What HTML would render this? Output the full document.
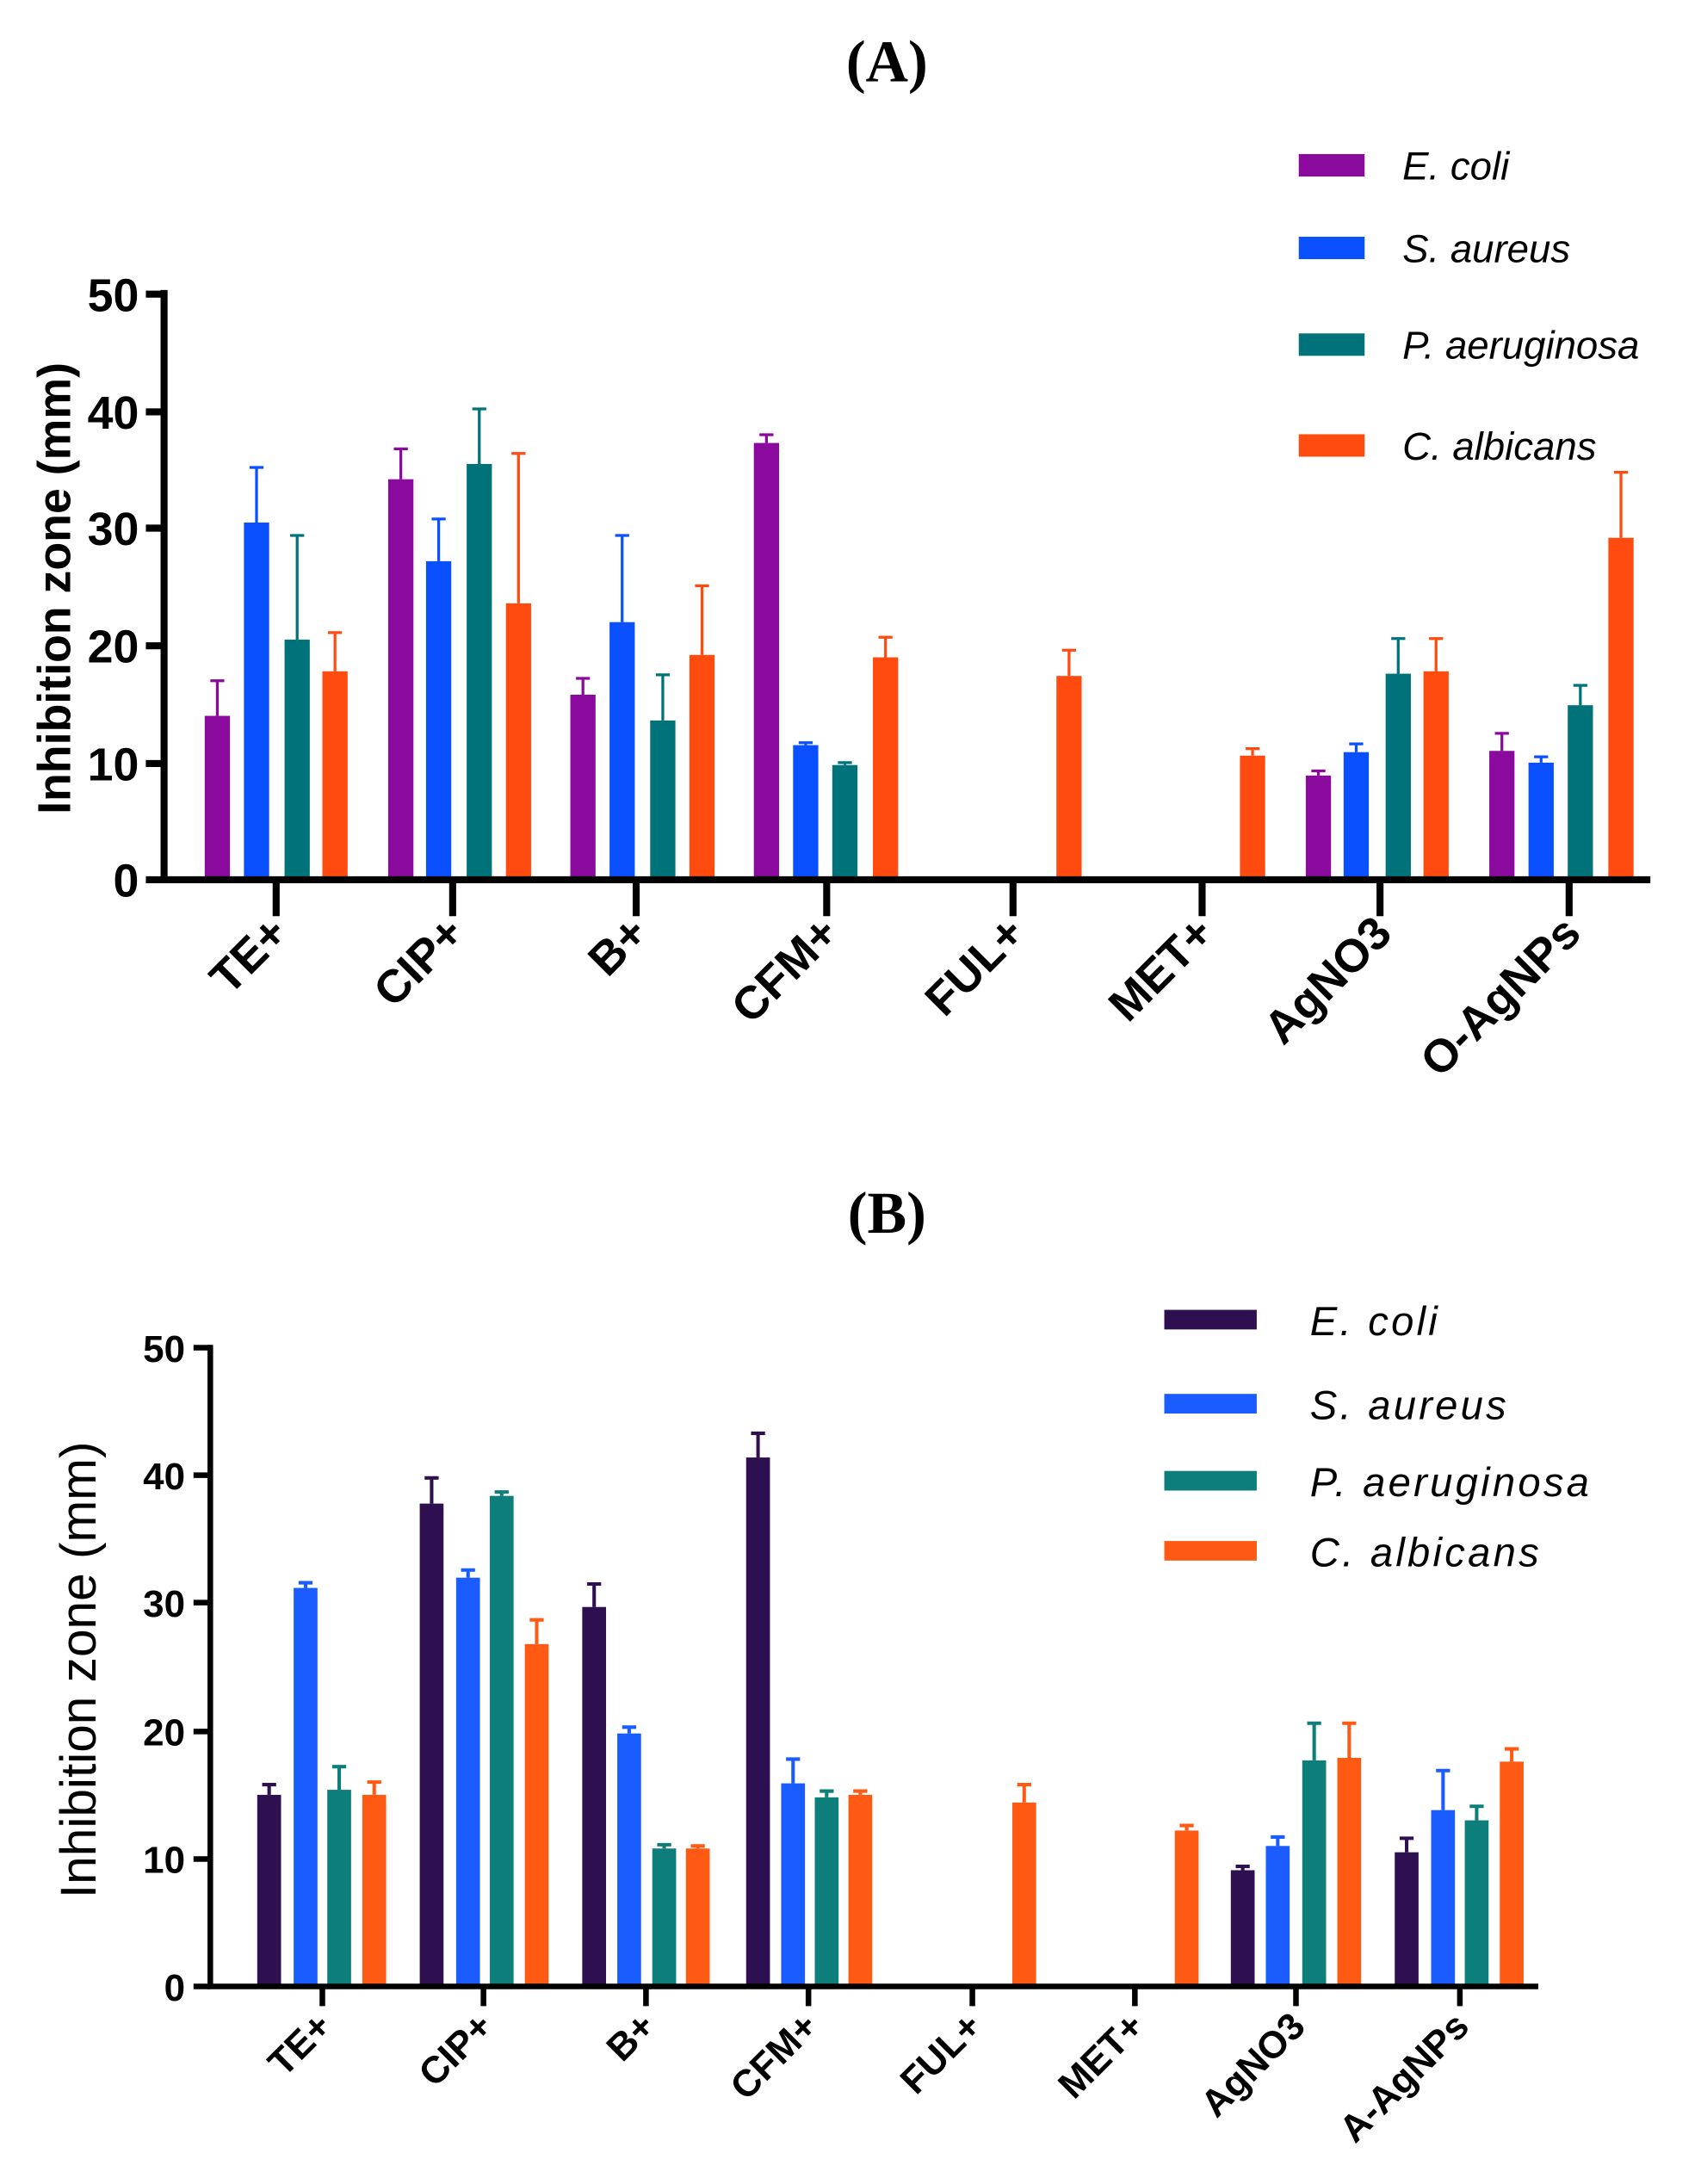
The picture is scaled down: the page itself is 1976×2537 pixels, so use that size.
<!DOCTYPE html>
<html><head><meta charset="utf-8"><style>html,body{margin:0;padding:0;background:#fff}svg{display:block}</style></head>
<body>
<svg width="1976" height="2537" viewBox="0 0 1214 1559" xmlns="http://www.w3.org/2000/svg" font-family="Liberation Sans, Arial, sans-serif">
<rect width="1214" height="1559" fill="#fff"/>
<text x="633" y="58" font-family="Liberation Serif, serif" font-size="42" font-weight="bold" text-anchor="middle">(A)</text>
<text x="633" y="880" font-family="Liberation Serif, serif" font-size="42" font-weight="bold" text-anchor="middle">(B)</text>

<!-- Chart A -->
<g>
<g fill="#8a0a9e">
<rect x="146" y="511" width="18" height="117"/><rect x="277" y="342.1" width="18" height="285.9"/><rect x="407" y="495.9" width="18" height="132.1"/><rect x="538" y="316.2" width="18" height="311.8"/><rect x="932" y="553.6" width="18" height="74.4"/><rect x="1063" y="536" width="18" height="92"/>
</g>
<g fill="#0a50ff">
<rect x="174" y="373" width="18" height="255"/><rect x="304" y="400.6" width="18" height="227.4"/><rect x="435" y="444.1" width="18" height="183.9"/><rect x="566" y="531.9" width="18" height="96.1"/><rect x="959" y="536.9" width="18" height="91.1"/><rect x="1091" y="544.4" width="18" height="83.6"/>
</g>
<g fill="#00737a">
<rect x="203" y="456.6" width="18" height="171.4"/><rect x="333" y="331.2" width="18" height="296.8"/><rect x="464" y="514.3" width="18" height="113.7"/><rect x="594" y="546.1" width="18" height="81.9"/><rect x="989" y="480.9" width="18" height="147.1"/><rect x="1119" y="503.4" width="18" height="124.6"/>
</g>
<g fill="#ff4a10">
<rect x="230" y="479.2" width="18" height="148.8"/><rect x="361" y="430.7" width="18" height="197.3"/><rect x="492" y="467.5" width="18" height="160.5"/><rect x="623" y="469.2" width="18" height="158.8"/><rect x="754" y="482.5" width="18" height="145.5"/><rect x="885" y="539.4" width="18" height="88.6"/><rect x="1016" y="479.2" width="18" height="148.8"/><rect x="1148" y="383.9" width="18" height="244.1"/>
</g>
<g stroke-width="2" fill="none">
<path stroke="#8a0a9e" d="M155 511V485.9M150 485.9h10M286 342.1V320.4M281 320.4h10M416 495.9V484.2M411 484.2h10M547 316.2V310.3M542 310.3h10M941 553.6V550.3M936 550.3h10M1072 536V523.5M1067 523.5h10"/>
<path stroke="#0a50ff" d="M183 373V333.7M178 333.7h10M313 400.6V370.5M308 370.5h10M444 444.1V382.2M439 382.2h10M575 531.9V530.2M570 530.2h10M968 536.9V531M963 531h10M1100 544.4V540.2M1095 540.2h10"/>
<path stroke="#00737a" d="M212 456.6V382.2M207 382.2h10M342 331.2V291.9M337 291.9h10M473 514.3V481.7M468 481.7h10M603 546.1V544.4M598 544.4h10M998 480.9V455.8M993 455.8h10M1128 503.4V489.2M1123 489.2h10"/>
<path stroke="#ff4a10" d="M239 479.2V451.6M234 451.6h10M370 430.7V323.7M365 323.7h10M501 467.5V418.2M496 418.2h10M632 469.2V454.9M627 454.9h10M763 482.5V464.1M758 464.1h10M894 539.4V534.4M889 534.4h10M1025 479.2V455.8M1020 455.8h10M1157 383.9V337.1M1152 337.1h10"/>
</g>
<g stroke="#000" stroke-width="5" fill="none">
<path d="M117 207V628H1178"/>
<path d="M104 210H117M104 294H117M104 377H117M104 461H117M104 545H117M104 628H117"/>
<path d="M197 628V654M323 628V654M454 628V654M590 628V654M723 628V654M858 628V654M985 628V654M1120 628V654"/>
</g>
<g font-size="33" font-weight="bold" text-anchor="end">
<text x="99" y="222">50</text><text x="99" y="306">40</text><text x="99" y="389">30</text><text x="99" y="473">20</text><text x="99" y="557">10</text><text x="99" y="640">0</text>
</g>
<text transform="translate(50,420) rotate(-90)" font-size="33" font-weight="bold" text-anchor="middle">Inhibition zone (mm)</text>
<g font-size="33" font-weight="bold" text-anchor="end">
<text transform="translate(207,668) rotate(-45)">TE+</text>
<text transform="translate(333,668) rotate(-45)">CIP+</text>
<text transform="translate(464,668) rotate(-45)">B+</text>
<text transform="translate(600,668) rotate(-45)">CFM+</text>
<text transform="translate(733,668) rotate(-45)">FUL+</text>
<text transform="translate(868,668) rotate(-45)">MET+</text>
<text transform="translate(995,668) rotate(-45)">AgNO3</text>
<text transform="translate(1130,668) rotate(-45)">O-AgNPs</text>
</g>
<rect x="927" y="110" width="47" height="16" fill="#8a0a9e"/>
<rect x="927" y="169" width="47" height="16" fill="#0a50ff"/>
<rect x="927" y="238" width="47" height="16" fill="#00737a"/>
<rect x="927" y="310" width="47" height="16" fill="#ff4a10"/>
<g font-size="28" font-style="italic">
<text x="1001" y="128">E. coli</text><text x="1001" y="187">S. aureus</text><text x="1001" y="256">P. aeruginosa</text><text x="1001" y="328">C. albicans</text>
</g>
</g>

<!-- Chart B -->
<g>
<g fill="#2e1050">
<rect x="183.5" y="1281.2" width="17" height="136.8"/><rect x="299.5" y="1073.3" width="17" height="344.7"/><rect x="415.5" y="1147.1" width="17" height="270.9"/><rect x="532.5" y="1040.4" width="17" height="377.6"/><rect x="878.5" y="1335" width="17" height="83"/><rect x="995.5" y="1322.2" width="17" height="95.8"/>
</g>
<g fill="#1a5cff">
<rect x="209.5" y="1133.5" width="17" height="284.5"/><rect x="325.5" y="1126.2" width="17" height="291.8"/><rect x="440.5" y="1237.4" width="17" height="180.6"/><rect x="557.5" y="1273" width="17" height="145"/><rect x="903.5" y="1317.7" width="17" height="100.3"/><rect x="1021.5" y="1292.1" width="17" height="125.9"/>
</g>
<g fill="#0e7e7a">
<rect x="233.5" y="1277.6" width="17" height="140.4"/><rect x="349.5" y="1067.8" width="17" height="350.2"/><rect x="465.5" y="1319.5" width="17" height="98.5"/><rect x="581.5" y="1283" width="17" height="135"/><rect x="929.5" y="1256.6" width="17" height="161.4"/><rect x="1045.5" y="1299.4" width="17" height="118.6"/>
</g>
<g fill="#ff5a14">
<rect x="258.5" y="1281.2" width="17" height="136.8"/><rect x="374.5" y="1173.6" width="17" height="244.4"/><rect x="489.5" y="1319.5" width="17" height="98.5"/><rect x="605.5" y="1281.2" width="17" height="136.8"/><rect x="722.5" y="1286.7" width="17" height="131.3"/><rect x="838.5" y="1306.7" width="17" height="111.3"/><rect x="954.5" y="1254.8" width="17" height="163.2"/><rect x="1070.5" y="1257.5" width="17" height="160.5"/>
</g>
<g stroke-width="2.5" fill="none">
<path stroke="#2e1050" d="M192 1281.2V1273.9M187 1273.9h10M308 1073.3V1055M303 1055h10M424 1147.1V1130.7M419 1130.7h10M541 1040.4V1023.1M536 1023.1h10M887 1335V1332.3M882 1332.3h10M1004 1322.2V1312.2M999 1312.2h10"/>
<path stroke="#1a5cff" d="M218 1133.5V1129.8M213 1129.8h10M334 1126.2V1120.7M329 1120.7h10M449 1237.4V1232.9M444 1232.9h10M566 1273V1255.7M561 1255.7h10M912 1317.7V1311.3M907 1311.3h10M1030 1292.1V1263.9M1025 1263.9h10"/>
<path stroke="#0e7e7a" d="M242 1277.6V1261.1M237 1261.1h10M358 1067.8V1065M353 1065h10M474 1319.5V1316.8M469 1316.8h10M590 1283V1278.5M585 1278.5h10M938 1256.6V1230.1M933 1230.1h10M1054 1299.4V1289.4M1049 1289.4h10"/>
<path stroke="#ff5a14" d="M267 1281.2V1272.1M262 1272.1h10M383 1173.6V1156.3M378 1156.3h10M498 1319.5V1317.7M493 1317.7h10M614 1281.2V1278.5M609 1278.5h10M731 1286.7V1273.9M726 1273.9h10M847 1306.7V1303.1M842 1303.1h10M963 1254.8V1230.1M958 1230.1h10M1079 1257.5V1248.4M1074 1248.4h10"/>
</g>
<g stroke="#000" stroke-width="4" fill="none">
<path d="M150 960V1418H1098"/>
<path d="M138 962H150M138 1053H150M138 1144H150M138 1236H150M138 1327H150M138 1418H150"/>
<path d="M230 1418V1432M345 1418V1432M461 1418V1432M577 1418V1432M694 1418V1432M810 1418V1432M925 1418V1432M1042 1418V1432"/>
</g>
<g font-size="27" font-weight="bold" text-anchor="end">
<text x="132" y="972">50</text><text x="132" y="1063">40</text><text x="132" y="1154">30</text><text x="132" y="1246">20</text><text x="132" y="1337">10</text><text x="132" y="1428">0</text>
</g>
<text transform="translate(68,1192) rotate(-90)" font-size="36" text-anchor="middle">Inhibition zone (mm)</text>
<g font-size="27" font-weight="bold" text-anchor="end">
<text transform="translate(238,1448) rotate(-45)">TE+</text>
<text transform="translate(353,1448) rotate(-45)">CIP+</text>
<text transform="translate(469,1448) rotate(-45)">B+</text>
<text transform="translate(585,1448) rotate(-45)">CFM+</text>
<text transform="translate(702,1448) rotate(-45)">FUL+</text>
<text transform="translate(818,1448) rotate(-45)">MET+</text>
<text transform="translate(933,1448) rotate(-45)">AgNO3</text>
<text transform="translate(1050,1448) rotate(-45)">A-AgNPs</text>
</g>
<rect x="831" y="935" width="66" height="14" fill="#2e1050"/>
<rect x="831" y="995" width="66" height="14" fill="#1a5cff"/>
<rect x="831" y="1050" width="66" height="14" fill="#0e7e7a"/>
<rect x="831" y="1100" width="66" height="14" fill="#ff5a14"/>
<g font-size="29" font-style="italic" letter-spacing="2">
<text x="935" y="953">E. coli</text><text x="935" y="1013">S. aureus</text><text x="935" y="1068">P. aeruginosa</text><text x="935" y="1118">C. albicans</text>
</g>
</g>
</svg>
</body></html>
